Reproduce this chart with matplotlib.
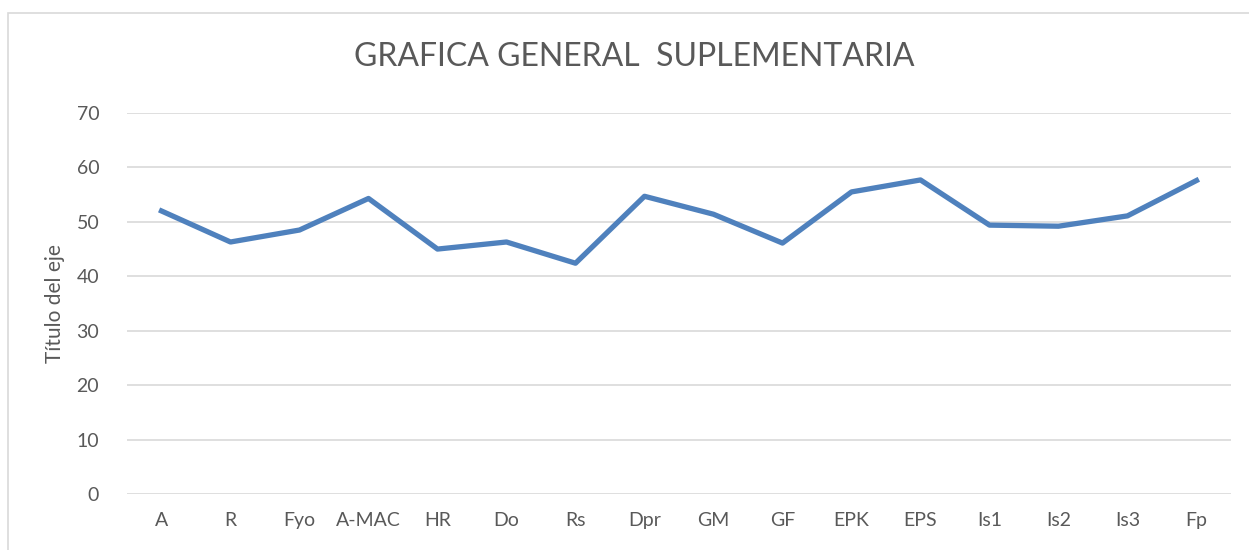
import matplotlib.pyplot as plt
from matplotlib.patches import Rectangle

categorias = ["A", "R", "Fyo", "A-MAC", "HR", "Do", "Rs", "Dpr", "GM", "GF",
              "EPK", "EPS", "Is1", "Is2", "Is3", "Fp"]
valores = [52.0, 46.3, 48.5, 54.3, 45.0, 46.3, 42.4, 54.7, 51.4, 46.1,
           55.5, 57.7, 49.4, 49.2, 51.1, 57.6]
ticks_y = [0, 10, 20, 30, 40, 50, 60, 70]

plt.rcParams['font.family'] = ['Lato', 'DejaVu Sans']
gris = '#595959'

fig = plt.figure(figsize=(12.49, 5.5), dpi=100)
ax = fig.add_axes([127 / 1249, 1 - 494 / 550, 1104 / 1249, 381 / 550])

x = range(len(categorias))
ax.plot(x, valores, color='#4F81BD', linewidth=3.8, solid_joinstyle='round')

ax.set_xlim(-0.5, len(categorias) - 0.5)
ax.set_ylim(0, 70)
ax.set_yticks(ticks_y)
ax.set_xticks(list(x))
ax.set_xticklabels(categorias)
ax.grid(axis='y', color='#D9D9D9', linewidth=1.2)
ax.set_axisbelow(True)
for s in ax.spines.values():
    s.set_visible(False)
ax.tick_params(length=0, labelsize=14, colors=gris, pad=13)
ax.tick_params(axis='y', pad=20)
ax.set_ylabel("Título del eje", fontsize=15, color=gris, labelpad=8)

fig.text(634 / 1249, 1 - 57 / 550, "GRAFICA GENERAL  SUPLEMENTARIA",
         fontsize=23, color=gris, ha='center', va='center')

fig.patches.append(Rectangle((8 / 1249, -0.1), 1.2, 1 - 13 / 550 + 0.1,
                             transform=fig.transFigure, fill=False,
                             edgecolor='#D9D9D9', linewidth=1.2))

fig.savefig('out.png', dpi=100)
